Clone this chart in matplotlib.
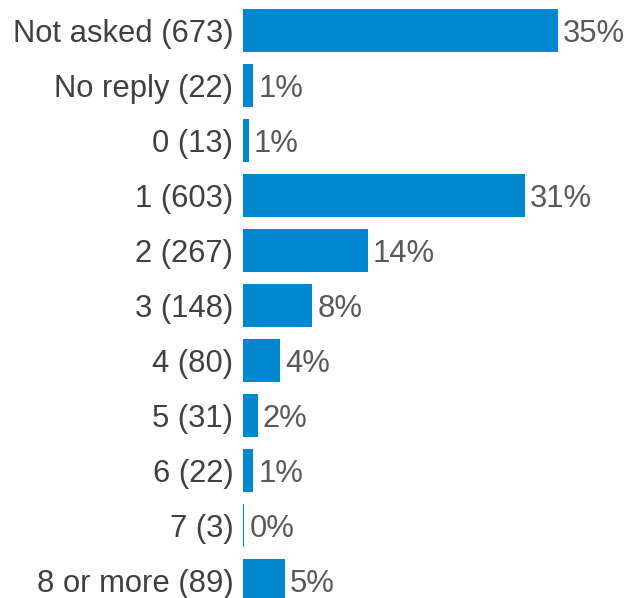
import matplotlib

matplotlib.use("Agg")
import matplotlib.pyplot as plt  # noqa: E402

categories = ["Not asked", "No reply", "0", "1", "2", "3", "4", "5", "6", "7", "8 or more"]
counts = [673, 22, 13, 603, 267, 148, 80, 31, 22, 3, 89]
pct_labels = ["35%", "1%", "1%", "31%", "14%", "8%", "4%", "2%", "1%", "0%", "5%"]

BAR_COLOUR = "#0288d1"
LABEL_COLOUR = "#404040"
PCT_COLOUR = "#595959"

plt.rcParams["font.family"] = ["Liberation Sans", "DejaVu Sans"]

fig = plt.figure(figsize=(6.33, 5.98), dpi=100)
ax = fig.add_axes([243 / 633, 0.0, 390 / 633, 1.0])

ypos = list(range(len(categories)))
ax.barh(ypos, counts, height=0.78, color=BAR_COLOUR, linewidth=0)

ax.set_xlim(0, 833)
ax.set_ylim(10.32, -0.56)

ax.set_yticks(ypos)
ax.set_yticklabels([f"{c} ({n})" for c, n in zip(categories, counts)], fontsize=22.3, color=LABEL_COLOUR)
ax.tick_params(axis="y", length=0, pad=7)
ax.set_xticks([])

for y, n, lab in zip(ypos, counts, pct_labels):
    ax.annotate(lab, (n, y), xytext=(3.5, 0), textcoords="offset points",
                ha="left", va="center_baseline", fontsize=22.3, color=PCT_COLOUR)

for side in ("top", "right", "bottom", "left"):
    ax.spines[side].set_visible(False)

fig.savefig("out.png", dpi=100)
